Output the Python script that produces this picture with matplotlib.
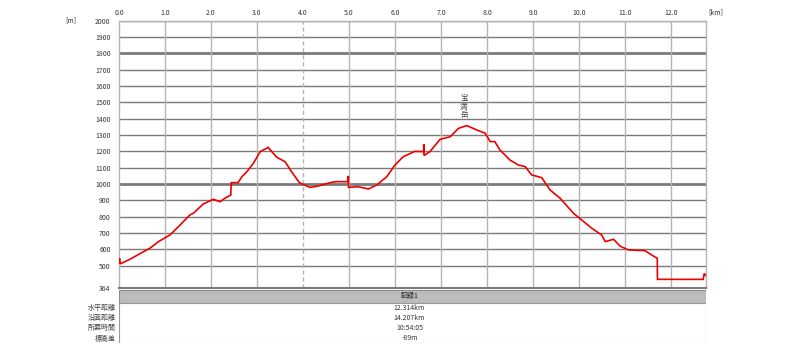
import matplotlib
matplotlib.use("Agg")
import matplotlib.pyplot as plt
from matplotlib.patches import Rectangle

plt.rcParams['font.family'] = ['Noto Sans CJK JP', 'DejaVu Sans']

# ---- data ----
dist_km = [0.00, 0.01, 0.03, 0.24, 0.53, 0.67, 0.86, 1.11, 1.33, 1.54, 1.62, 1.83, 2.05, 2.20,
           2.30, 2.43, 2.44, 2.59, 2.67, 2.78, 2.92, 3.07, 3.21, 3.24, 3.43, 3.61, 3.75, 3.92,
           4.04, 4.15, 4.33, 4.59, 4.73, 4.98, 4.985, 4.99, 5.20, 5.42, 5.60, 5.82, 6.00, 6.18,
           6.43, 6.62, 6.625, 6.63, 6.76, 6.98, 7.20, 7.38, 7.56, 7.78, 7.96, 8.07, 8.17, 8.28,
           8.50, 8.68, 8.83, 8.97, 9.12, 9.19, 9.37, 9.59, 9.88, 10.06, 10.28, 10.49, 10.57,
           10.75, 10.89, 11.07, 11.43, 11.58, 11.70, 11.705, 12.70, 12.72, 12.76]
elev_m = [520, 548, 512, 540, 586, 607, 648, 689, 750, 811, 822, 878, 907, 892,
          913, 933, 1009, 1009, 1045, 1076, 1127, 1199, 1219, 1225, 1164, 1137, 1076, 1009,
          994, 980, 988, 1009, 1015, 1015, 1050, 980, 984, 970, 994, 1045, 1117, 1168,
          1200, 1199, 1245, 1175, 1199, 1274, 1290, 1341, 1358, 1331, 1311, 1260, 1260, 1209,
          1147, 1117, 1107, 1056, 1045, 1039, 964, 913, 821, 780, 729, 689, 648,
          662, 621, 597, 593, 566, 546, 417, 417, 452, 440]

x_ticks = [0, 1, 2, 3, 4, 5, 6, 7, 8, 9, 10, 11, 12]
x_tick_labels = ["0.0", "1.0", "2.0", "3.0", "4.0", "5.0", "6.0", "7.0", "8.0", "9.0",
                 "10.0", "11.0", "12.0"]
y_ticks = [364, 500, 600, 700, 800, 900, 1000, 1100, 1200, 1300, 1400, 1500, 1600, 1700,
           1800, 1900, 2000]
y_tick_labels = [str(v) for v in y_ticks]
thick_y = [1000, 1800]
dashed_x = [4]

peak_name = "宝満岳"
peak_km = 7.5
peak_elev = 1550

table_header = "記録1"
row_labels = ["水平距離", "沿面距離", "所要時間", "標高差"]
row_values = ["12.314km", "14.207km", "10:54:05", "-89m"]

x_max = 12.76
y_min, y_max = 364, 2000

# ---- figure ----
fig = plt.figure(figsize=(8, 3.5), dpi=100)
L, R = 119 / 800, 706 / 800
ax = fig.add_axes([L, 1 - 288 / 350, R - L, (288 - 20.7) / 350])
ax.set_xlim(0, x_max)
ax.set_ylim(y_min, y_max)

for y in y_ticks[1:]:
    lw = 2.0 if y in thick_y else 1.0
    ax.axhline(y, color="#7a7a7a", lw=lw, zorder=1)
for x in x_ticks[1:]:
    ls = (0, (3, 2)) if x in dashed_x else "-"
    ax.axvline(x, color="#b4b4b4", lw=1.0, ls=ls, zorder=1)

ax.plot(dist_km, elev_m, color="#ee0000", lw=1.2, zorder=3, solid_joinstyle="miter")

# peak label (vertical, upright characters)
ax.text(peak_km, peak_elev, "\n".join(peak_name), ha="center", va="top",
        fontsize=5.5, linespacing=1.05, color="#444444", zorder=4)

for s in ["left", "top", "right"]:
    ax.spines[s].set_color("#b4b4b4")
    ax.spines[s].set_linewidth(1.0)
ax.spines["bottom"].set_color("#7a7a7a")
ax.spines["bottom"].set_linewidth(1.5)

ax.xaxis.tick_top()
ax.set_xticks(x_ticks)
ax.set_xticklabels(x_tick_labels)
ax.set_yticks(y_ticks)
ax.set_yticklabels(y_tick_labels)
ax.tick_params(axis="both", length=0, labelsize=5, labelcolor="#333333")
ax.tick_params(axis="x", pad=3)
ax.tick_params(axis="y", pad=6)

fig.text(65 / 800, 1 - 20 / 350, "[m]", fontsize=5, color="#333333", va="center")
fig.text(708 / 800, 1 - 12 / 350, "[km]", fontsize=5, color="#333333", va="center")

# ---- table ----
tax = fig.add_axes([L, 1 - 343 / 350, R - L, (343 - 290) / 350])
tax.set_xlim(0, 1)
tax.set_ylim(343, 290)
tax.axis("off")
tax.add_patch(Rectangle((0, 290), 1, 12.5, facecolor="#bcbcbc", edgecolor="#8a8a8a", lw=0.8))
tax.add_patch(Rectangle((0, 302.5), 1, 40, facecolor="white", edgecolor="#9a9a9a", lw=0.8))
tax.text(0.495, 296.3, table_header, ha="center", va="center", fontsize=5, color="#222222")
row_y = [307.7, 317.7, 327.7, 338.5]
for yy, lab, val in zip(row_y, row_labels, row_values):
    tax.text(0.495, yy, val, ha="center", va="center", fontsize=5, color="#333333")
    fig.text(116 / 800, 1 - yy / 350, lab, ha="right", va="center", fontsize=5, color="#444444")

fig.savefig("out.png", dpi=100)
